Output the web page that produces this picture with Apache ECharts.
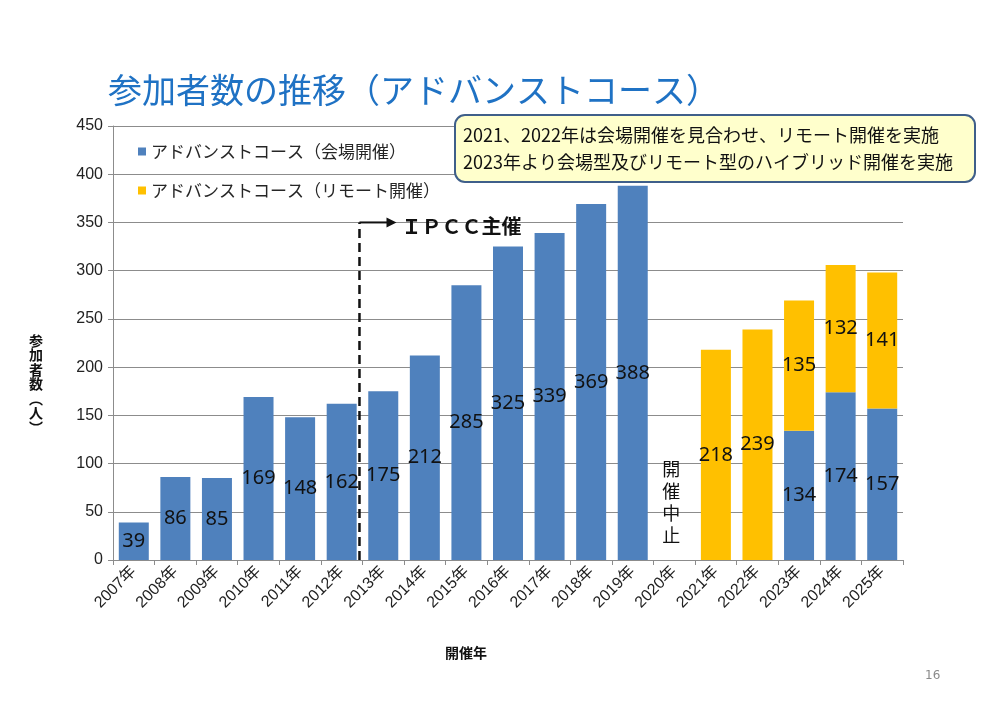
<!DOCTYPE html>
<html>
<head>
<meta charset="utf-8">
<script src="https://cdn.jsdelivr.net/npm/echarts@6/dist/echarts.min.js"></script>
<style>
  html, body { margin: 0; padding: 0; background: #fff; }
  #main { width: 995px; height: 711px; }
</style>
</head>
<body>
<div id="main"></div>
<script>
// 開催年
const years = ["2007年", "2008年", "2009年", "2010年", "2011年", "2012年", "2013年", "2014年", "2015年",
  "2016年", "2017年", "2018年", "2019年", "2020年", "2021年", "2022年", "2023年", "2024年", "2025年"];
// 会場開催
const venueCounts = [39, 86, 85, 169, 148, 162, 175, 212, 285, 325, 339, 369, 388, null, null, null, 134, 174, 157];
// リモート開催
const remoteCounts = [null, null, null, null, null, null, null, null, null, null, null, null, null, null, 218, 239, 135, 132, 141];
const yMin = 0, yMax = 450, yStep = 50;
const ipccStartYear = "2013年";
const cancelledYear = "2020年";

const FONT = "'Noto Sans CJK JP', 'Noto Sans', sans-serif";
const chart = echarts.init(document.getElementById("main"));

const labelStyle = {
  show: true,
  position: "inside",
  color: "#111",
  fontSize: 20,
  fontFamily: "'Noto Sans', sans-serif",
  formatter: (p) => (p.value == null ? "" : p.value),
};

chart.setOption({
  animation: false,
  textStyle: { fontFamily: FONT },
  title: [
    {
      text: "参加者数の推移（アドバンストコース）",
      left: 103,
      top: 68,
      textStyle: { color: "#1F72C4", fontSize: 34, fontWeight: "normal", fontFamily: FONT },
    },
    {
      // y軸名（縦書き）
      text: "参\n加\n者\n数\n︵\n人\n︶",
      left: 24,
      top: 328,
      textStyle: { color: "#111", fontSize: 14, fontWeight: "bold", lineHeight: 14.5, fontFamily: FONT },
    },
    {
      text: "開催年",
      left: 440,
      top: 641,
      textStyle: { color: "#111", fontSize: 14, fontWeight: "bold", fontFamily: FONT },
    },
    {
      text: "16",
      left: 920,
      top: 665,
      textStyle: { color: "#8a8a8a", fontSize: 12, fontWeight: "normal", fontFamily: "'DejaVu Sans', sans-serif" },
    },
  ],
  legend: {
    orient: "vertical",
    left: 133,
    top: 138,
    itemWidth: 8,
    itemHeight: 8,
    itemGap: 22,
    icon: "rect",
    textStyle: { fontSize: 17, color: "#262626", fontFamily: FONT },
    data: ["アドバンストコース（会場開催）", "アドバンストコース（リモート開催）"],
  },
  grid: { left: 113, right: 92, top: 126, bottom: 151, containLabel: false },
  xAxis: {
    type: "category",
    data: years,
    axisLine: { lineStyle: { color: "#8c8c8c" } },
    axisTick: { show: true, length: 5, lineStyle: { color: "#8c8c8c" } },
    axisLabel: { rotate: 45, fontSize: 16, color: "#222", margin: 9, interval: 0, fontFamily: "'Liberation Sans', " + FONT },
  },
  yAxis: {
    type: "value",
    min: yMin,
    max: yMax,
    interval: yStep,
    axisLine: { show: true, lineStyle: { color: "#8c8c8c" } },
    axisTick: { show: true, length: 5, lineStyle: { color: "#8c8c8c" } },
    axisLabel: { fontSize: 16, color: "#222", margin: 10, fontFamily: "'Liberation Sans', sans-serif" },
    splitLine: { lineStyle: { color: "#8c8c8c", width: 1 } },
  },
  series: [
    {
      name: "アドバンストコース（会場開催）",
      type: "bar",
      stack: "total",
      barWidth: 30,
      itemStyle: { color: "#4F81BD" },
      label: labelStyle,
      data: venueCounts,
    },
    {
      name: "アドバンストコース（リモート開催）",
      type: "bar",
      stack: "total",
      barWidth: 30,
      itemStyle: { color: "#FFC000" },
      label: labelStyle,
      data: remoteCounts,
    },
  ],
});

// 注記・IPCC主催ライン・開催中止（軸の座標から位置を取る）
function drawNotes() {
  const idx = years.indexOf(ipccStartYear);
  const xa = chart.convertToPixel({ xAxisIndex: 0 }, years[idx - 1]);
  const xb = chart.convertToPixel({ xAxisIndex: 0 }, years[idx]);
  const lineX = (xa + xb) / 2 - 3;
  const yTop = chart.convertToPixel({ yAxisIndex: 0 }, 350);
  const yBottom = chart.convertToPixel({ yAxisIndex: 0 }, 0);
  const cx = chart.convertToPixel({ xAxisIndex: 0 }, cancelledYear);
  const cy = chart.convertToPixel({ yAxisIndex: 0 }, 106);

  chart.setOption({
    graphic: [
      {
        type: "line",
        shape: { x1: lineX, y1: yBottom, x2: lineX, y2: yTop },
        style: { stroke: "#111", lineWidth: 2.5, lineDash: [9, 5] },
        z: 10,
      },
      {
        type: "line",
        shape: { x1: lineX, y1: yTop, x2: lineX + 30, y2: yTop },
        style: { stroke: "#111", lineWidth: 2 },
        z: 10,
      },
      {
        type: "polygon",
        shape: { points: [[lineX + 37, yTop], [lineX + 27, yTop - 5], [lineX + 27, yTop + 5]] },
        style: { fill: "#111" },
        z: 10,
      },
      {
        type: "text",
        x: lineX + 42,
        y: yTop + 4,
        style: {
          text: "ＩＰＣＣ主催",
          font: "bold 20px " + FONT,
          fill: "#111",
          verticalAlign: "middle",
        },
        z: 10,
      },
      {
        type: "text",
        x: cx - 3,
        y: cy,
        style: {
          text: "開\n催\n中\n止",
          font: "18px " + FONT,
          lineHeight: 22,
          fill: "#111",
          align: "center",
          verticalAlign: "top",
        },
        z: 10,
      },
      {
        type: "rect",
        shape: { x: 455, y: 115, width: 520, height: 67, r: 10 },
        style: { fill: "#FFFFCC", stroke: "#3F5F8A", lineWidth: 2 },
        z: 20,
      },
      {
        type: "text",
        x: 463,
        y: 122,
        style: {
          text: "2021、2022年は会場開催を見合わせ、リモート開催を実施\n2023年より会場型及びリモート型のハイブリッド開催を実施",
          font: "18px " + FONT,
          lineHeight: 27,
          fill: "#111",
        },
        z: 21,
      },
    ],
  });
}
drawNotes();
</script>
</body>
</html>
